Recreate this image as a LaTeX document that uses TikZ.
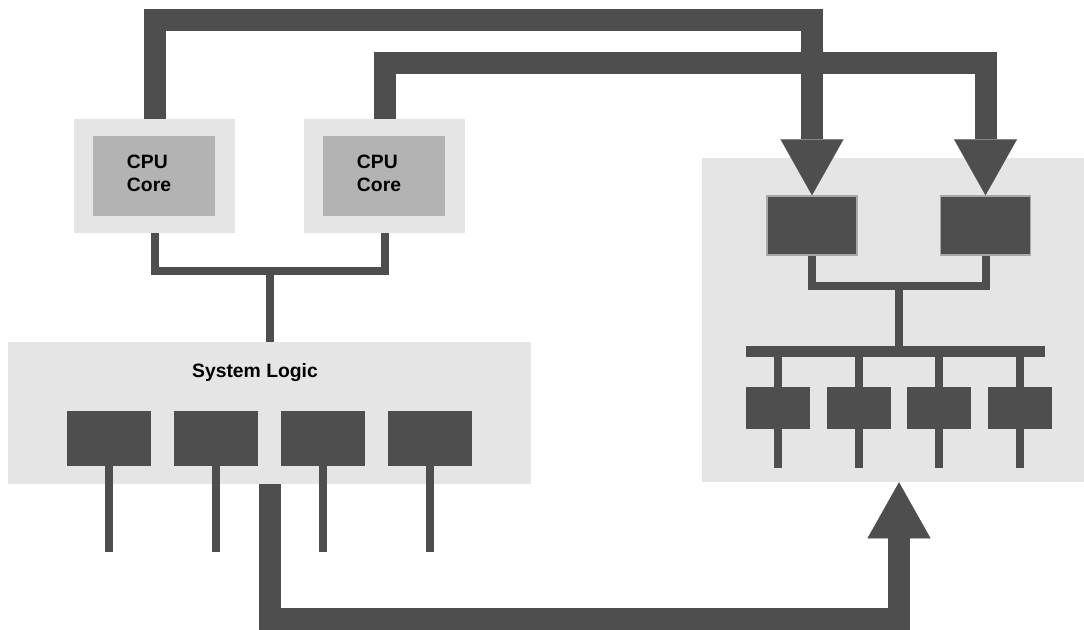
\documentclass[tikz,border=0pt]{standalone}
\usepackage{fontspec}
\setmainfont{Liberation Sans}
\usetikzlibrary{arrows.meta}
\definecolor{ink}{HTML}{4E4E4E}
\definecolor{panel}{HTML}{E5E5E5}
\definecolor{coregray}{HTML}{B3B3B3}
\definecolor{rim}{HTML}{A8A8A8}
\tikzset{
  panelbox/.style={fill=panel, inner sep=0pt},
  corebox/.style={fill=coregray, inner sep=0pt, minimum width=91.5pt, minimum height=60pt},
  darkbox/.style={fill=ink, inner sep=0pt},
  wire/.style={draw=ink, line width=6pt, line join=miter},
  bus/.style={draw=ink, line width=16.5pt, line join=miter,
    -{Triangle[width=47.25pt, length=42pt, line width=0.1pt, fill=ink]}},
  lbl/.style={font=\bfseries\fontsize{14.5}{17.25}\selectfont, align=left, inner sep=0pt}
}
\begin{document}
\begin{tikzpicture}[x=0.75pt, y=-0.75pt]
  \useasboundingbox (0,0) rectangle (1084,629);
  % processors
  \node[panelbox, minimum width=120.75pt, minimum height=85.5pt] (cpuA) at (154.5,176) {};
  \node[panelbox, minimum width=120.75pt, minimum height=85.5pt] (cpuB) at (384.5,176) {};
  \node[corebox] (coreA) at (154,176) {};
  \node[corebox] (coreB) at (384,176) {};
  \node[lbl] at (149,173) {CPU\\Core};
  \node[lbl] at (379,173) {CPU\\Core};
  % system logic
  \node[panelbox, minimum width=392.25pt, minimum height=106.5pt] (syslog) at (269.5,413) {};
  \node[lbl] at (255,373) {System Logic};
  \foreach \x [count=\i] in {109,216,323,430}
    \node[darkbox, minimum width=63pt, minimum height=41.25pt] (io\i) at (\x,438.5) {};
  \foreach \i in {1,...,4}
    \draw[wire] (io\i.south) -- ++(0,86);
  % right hand module
  \node[panelbox, minimum width=286.5pt, minimum height=243pt] (hub) at (893,320) {};
  \node[darkbox, draw=rim, line width=1.1pt, minimum width=67.5pt, minimum height=44.25pt] (portA) at (812,225.5) {};
  \node[darkbox, draw=rim, line width=1.1pt, minimum width=67.5pt, minimum height=44.25pt] (portB) at (985.5,225.5) {};
  \coordinate (spine) at (899,286);
  \coordinate (barL) at (746,351.5);
  \coordinate (barR) at (1045,351.5);
  \draw[wire] (portA.south) |- (spine) -| (portB.south);
  \draw[wire] (spine) -- (spine |- barL);
  \draw[draw=ink, line width=8.25pt] (barL) -- (barR);
  \foreach \x [count=\i] in {778,858.5,939,1020} {
    \draw[wire] (\x,357) -- (\x,468);
    \node[darkbox, minimum width=48pt, minimum height=31.5pt] (dev\i) at (\x,408) {};
  }
  % processor to system logic
  \coordinate (cpujoin) at (269.5,271);
  \draw[wire] (cpuA.south) |- (cpujoin) -| (cpuB.south);
  \draw[wire] (cpujoin) -- (syslog.north);
  % wide buses
  \coordinate (topA) at (0,20);
  \coordinate (topB) at (0,62.5);
  \coordinate (floor) at (0,618.5);
  \draw[bus] (cpuA.north) -- (cpuA.north |- topA) -| (portA.north);
  \draw[bus] (cpuB.north) -- (cpuB.north |- topB) -| (portB.north);
  \draw[bus] (syslog.south) -- (syslog.south |- floor) -| (hub.south -| spine);
\end{tikzpicture}
\end{document}
